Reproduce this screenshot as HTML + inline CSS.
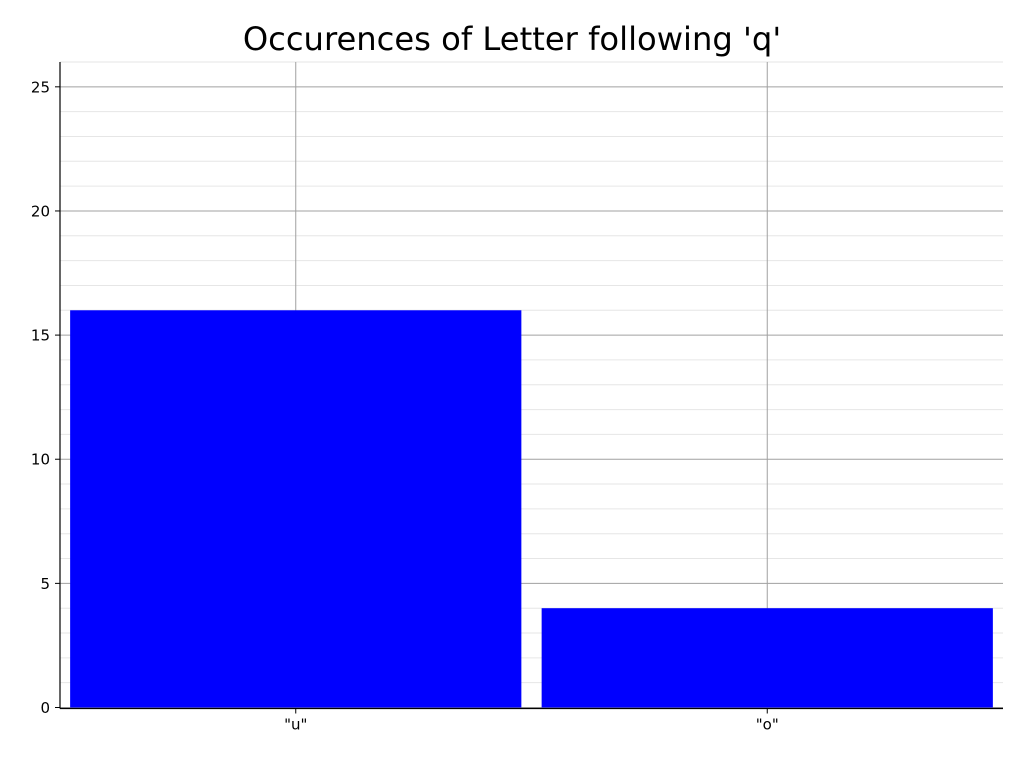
<!DOCTYPE html>
<html><head><meta charset="utf-8"><style>
html,body{margin:0;padding:0;background:#fff;width:1024px;height:768px;overflow:hidden}
svg{display:block;font-family:"DejaVu Sans","Liberation Sans",sans-serif}
</style></head><body>
<svg id="chart" width="1024" height="768"></svg>
<script>
const categories = ['"u"', '"o"'];
const values = [16, 4];
const yTicks = [0, 5, 10, 15, 20, 25];
const yMinor = [1,2,3,4,6,7,8,9,11,12,13,14,16,17,18,19,21,22,23,24,26];
const title = "Occurences of Letter following 'q'";

const NS = "http://www.w3.org/2000/svg";
const svg = document.getElementById('chart');
const L = 60, R = 1003, T = 62, B = 707.5;
const yMax = 26.0;
const y = v => B - (v / yMax) * (B - T);
const x = i => L + (i + 0.5) * (R - L) / categories.length;
const bw = 0.957 * (R - L) / categories.length;
function mk(tag, attrs) { const e = document.createElementNS(NS, tag); for (const k in attrs) e.setAttribute(k, attrs[k]); svg.appendChild(e); return e; }

yMinor.forEach(v => {
  const l = mk('line', {x1: L, x2: R, y1: y(v), y2: y(v), stroke: '#e6e6e6', 'stroke-width': 1});
  
  
});
yTicks.forEach(v => {
  const l = mk('line', {x1: L, x2: R, y1: y(v), y2: y(v), stroke: '#a0a0a0', 'stroke-width': 1});
  
  
});
categories.forEach((c, i) => {
  const l = mk('line', {x1: x(i), x2: x(i), y1: T, y2: B, stroke: '#a0a0a0', 'stroke-width': 1});
  
  
});
values.forEach((v, i) => {
  const r = mk('rect', {x: x(i) - bw / 2, y: y(v), width: bw, height: B - y(v), fill: '#0000ff'});
  
  
});
const ax = mk('line', {x1: L, x2: L, y1: T, y2: B + 1, stroke: '#000', 'stroke-width': 1.2});


const bx = mk('line', {x1: L, x2: R, y1: B + 1, y2: B + 1, stroke: '#000', 'stroke-width': 1.2});


yTicks.forEach(v => {
  const t = mk('line', {x1: L - 5, x2: L, y1: y(v), y2: y(v), stroke: '#000', 'stroke-width': 1});
  
  
  const tx = mk('text', {x: L - 10, y: y(v) + 5.5, 'text-anchor': 'end', 'font-size': 15, fill: '#000'});
  tx.textContent = v;
  
  
});
categories.forEach((c, i) => {
  const t = mk('line', {x1: x(i), x2: x(i), y1: B + 1, y2: B + 6, stroke: '#000', 'stroke-width': 1});
  
  
  const tx = mk('text', {x: x(i), y: B + 22, 'text-anchor': 'middle', 'font-size': 15, fill: '#000'});
  tx.textContent = c;
  
  
});
const tt = mk('text', {x: 512, y: 50, 'text-anchor': 'middle', 'font-size': 32.2, fill: '#000'});
tt.textContent = title;


</script>
</body></html>
